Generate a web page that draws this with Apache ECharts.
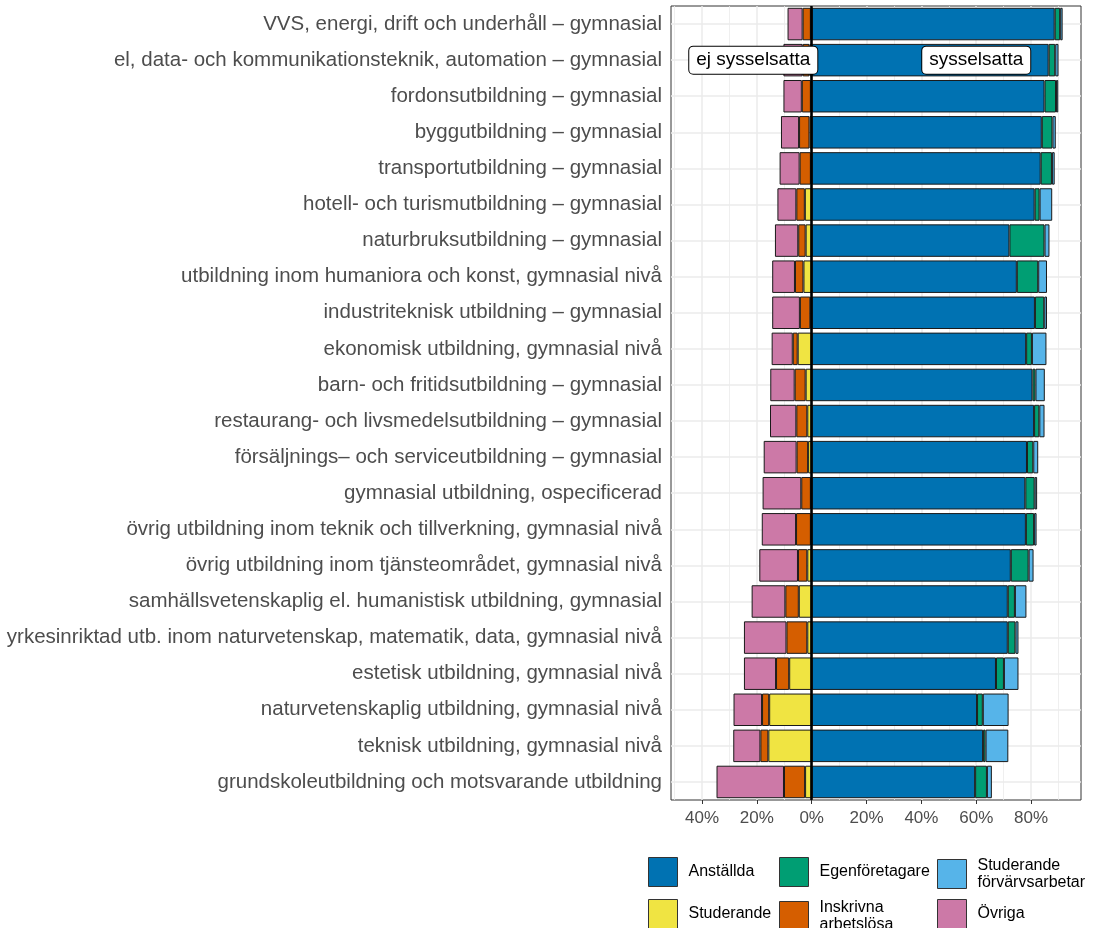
<!DOCTYPE html>
<html><head><meta charset="utf-8">
<script src="https://cdn.jsdelivr.net/npm/echarts@6/dist/echarts.min.js"></script>
<style>html,body{margin:0;padding:0;background:#fff}#c{width:1095px;height:928px}</style>
</head><body><div id="c"></div>
<script>
const categories = [
  "VVS, energi, drift och underhåll – gymnasial",
  "el, data- och kommunikationsteknik, automation – gymnasial",
  "fordonsutbildning – gymnasial",
  "byggutbildning – gymnasial",
  "transportutbildning – gymnasial",
  "hotell- och turismutbildning – gymnasial",
  "naturbruksutbildning – gymnasial",
  "utbildning inom humaniora och konst, gymnasial nivå",
  "industriteknisk utbildning – gymnasial",
  "ekonomisk utbildning, gymnasial nivå",
  "barn- och fritidsutbildning – gymnasial",
  "restaurang- och livsmedelsutbildning – gymnasial",
  "försäljnings– och serviceutbildning – gymnasial",
  "gymnasial utbildning, ospecificerad",
  "övrig utbildning inom teknik och tillverkning, gymnasial nivå",
  "övrig utbildning inom tjänsteområdet, gymnasial nivå",
  "samhällsvetenskaplig el. humanistisk utbildning, gymnasial",
  "yrkesinriktad utb. inom naturvetenskap, matematik, data, gymnasial nivå",
  "estetisk utbildning, gymnasial nivå",
  "naturvetenskaplig utbildning, gymnasial nivå",
  "teknisk utbildning, gymnasial nivå",
  "grundskoleutbildning och motsvarande utbildning"
];
// employed side (percent)
const anstallda      = [88.6,86.4,84.9,83.9,83.5,81.3,72.1,74.8,81.4,78.2,80.5,81.1,78.5,77.9,78.1,72.6,71.5,71.5,67.2,60.3,62.5,59.6];
const egenforetagare = [2.0,2.4,4.2,3.9,4.1,1.8,12.8,7.8,3.4,2.1,1.1,1.9,2.3,3.4,3.0,6.5,2.6,2.8,2.9,2.1,0.9,4.3];
const studForv       = [0.9,1.2,0.8,1.2,1.0,4.6,1.8,3.2,1.0,5.3,3.4,1.9,1.8,0.9,0.9,1.8,4.2,1.1,5.3,9.4,8.3,1.8];
// not employed side (percent, drawn to the left)
const studerande     = [0.3,0.8,0.3,0.8,0.3,2.5,2.2,3.0,0.5,5.1,2.2,1.6,1.3,0.3,0.3,1.6,4.7,1.6,8.2,15.5,15.8,2.4];
const arbetslosa     = [3.0,2.5,3.3,3.8,4.1,3.1,2.7,3.1,3.8,1.8,4.0,4.0,4.2,3.5,5.4,3.4,4.9,7.6,4.8,2.6,2.9,7.7];
const ovriga         = [5.5,7.0,6.7,6.6,7.3,6.9,8.5,8.3,10.1,7.7,8.9,9.6,12.0,14.1,12.5,14.1,12.3,15.5,11.7,10.4,9.9,24.6];

const xTicks = [-40,-20,0,20,40,60,80];
const gridValues = [-50,-40,-30,-20,-10,0,10,20,30,40,50,60,70,80,90];
const xMin = -51.3, xMax = 98.2;
const annotTexts = ["ej sysselsatta","sysselsatta"];
const annotX = [-21.3, 60];
const annotRow = 1;

const colors = {
  "Anställda":"#0072B2","Egenföretagare":"#009E73","Studerande förvärvsarbetar":"#56B4E9",
  "Studerande":"#F0E442","Inskrivna arbetslösa":"#D55E00","Övriga":"#CC79A7"
};
const legendText = {
  "Anställda":"Anställda","Egenföretagare":"Egenföretagare","Studerande förvärvsarbetar":"Studerande\nförvärvsarbetar",
  "Studerande":"Studerande","Inskrivna arbetslösa":"Inskrivna\narbetslösa","Övriga":"Övriga"
};
const FONT = "'Liberation Sans', Arial, sans-serif";

function barSeries(name, vals, neg, extra) {
  return Object.assign({
    name, type:'bar', stack:'s', barCategoryGap:'10%',
    data: vals.map(v => neg ? -v : v),
    itemStyle:{color:colors[name], borderColor:'#1a1a1a', borderWidth:1},
    emphasis:{disabled:true}
  }, extra||{});
}

const gridLineData = gridValues.map(v => ({xAxis:v, lineStyle:{color:'#ebebeb', width: (v%20===0)?1.5:0.8, type:'solid'}}))
  .concat(categories.map(c => ({yAxis:c, lineStyle:{color:'#ebebeb', width:1.5, type:'solid'}})));

const series = [
  barSeries("Anställda", anstallda, false, {
    markLine:{silent:true, z:1, symbol:['none','none'], label:{show:false}, animation:false, data:gridLineData}
  }),
  barSeries("Egenföretagare", egenforetagare, false),
  barSeries("Studerande förvärvsarbetar", studForv, false),
  barSeries("Studerande", studerande, true),
  barSeries("Inskrivna arbetslösa", arbetslosa, true),
  barSeries("Övriga", ovriga, true, {
    markLine:{silent:true, z:10, symbol:['none','none'], label:{show:false}, animation:false,
      data:[{xAxis:0, lineStyle:{color:'#000', width:2.6, type:'solid'}}]}
  }),
  {
    name:'annot', type:'scatter', z:20, symbol:'rect', symbolSize:1, itemStyle:{color:'#ffffff', opacity:1}, silent:true,
    emphasis:{disabled:true},
    labelLayout:{hideOverlap:false},
    data: annotX.map((x,i)=>({value:[x, annotRow], name:annotTexts[i]})),
    label:{show:true, position:'inside', formatter:p=>p.name, color:'#000', fontFamily:FONT, fontSize:19,
      backgroundColor:'#ffffff', borderColor:'#000', borderWidth:1, borderRadius:4, padding:[4,7,3,7], lineHeight:20, opacity:1}
  }
];

const legendPos = [
  ["Anställda",648,857],["Egenföretagare",779,857],["Studerande förvärvsarbetar",937,857],
  ["Studerande",648,899],["Inskrivna arbetslösa",779,899],["Övriga",937,899]
];
const legends = legendPos.map(([n,l,t]) => ({
  data:[n], left:l, top:t, orient:'horizontal', itemWidth:29, itemHeight:29, padding:0,
  selectedMode:false, icon:'rect',
  itemStyle:{borderColor:'#333', borderWidth:1},
  formatter: name => legendText[name],
  textStyle:{fontFamily:FONT, fontSize:16, color:'#000', lineHeight:17, padding:[0,0,0,6]}
}));

const chart = echarts.init(document.getElementById('c'), null, {renderer:'canvas'});
chart.setOption({
  animation:false,
  color: Object.values(colors),
  legend: legends,
  grid:{left:671, right:14, top:6, bottom:128, containLabel:false, show:true, borderColor:'#333', borderWidth:1, backgroundColor:'#fff'},
  xAxis:{type:'value', min:xMin, max:xMax,
    axisLine:{show:false},
    splitLine:{show:false},
    axisTick:{show:true, customValues:xTicks, length:4, lineStyle:{color:'#333'}},
    axisLabel:{customValues:xTicks, formatter:v=>Math.abs(Math.round(v))+'%', color:'#4d4d4d', fontSize:17, fontFamily:FONT, margin:10}
  },
  yAxis:{type:'category', inverse:true, data:categories,
    axisLine:{show:false},
    splitLine:{show:false},
    axisTick:{show:true, alignWithLabel:true, length:4, lineStyle:{color:'#333'}},
    axisLabel:{color:'#4d4d4d', fontSize:20.5, fontFamily:FONT, margin:9}
  },
  series
});
</script></body></html>
